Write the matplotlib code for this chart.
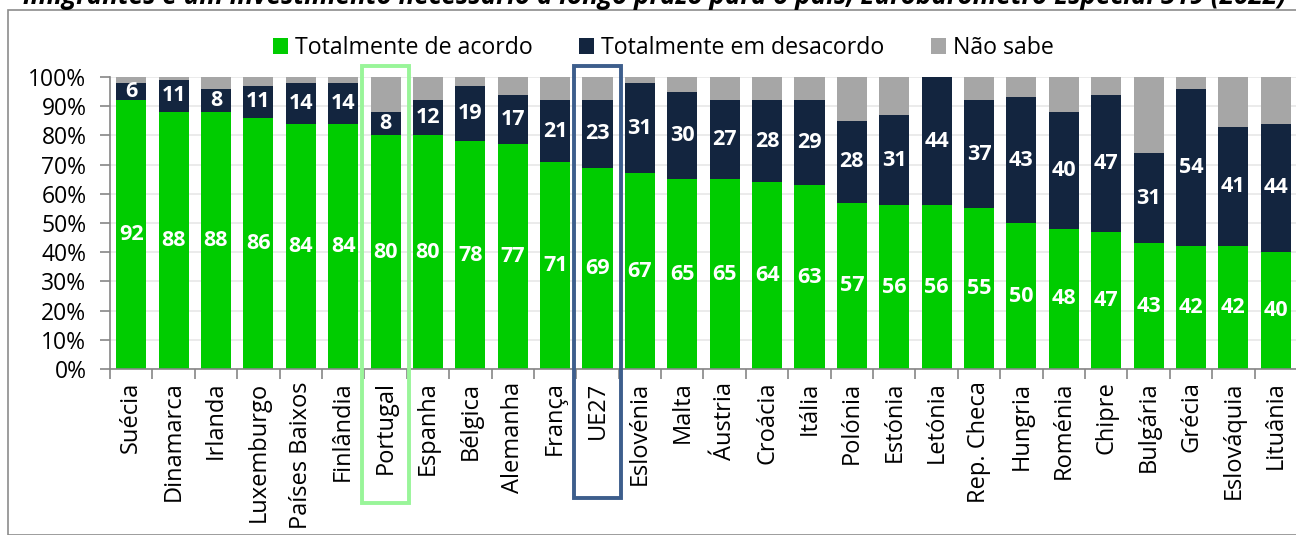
import numpy as np
import matplotlib as mpl
mpl.use('Agg')
import matplotlib.pyplot as plt
from matplotlib.patches import Rectangle
import matplotlib.transforms as mtransforms

plt.rcParams['font.family'] = ['Open Sans', 'DejaVu Sans']

countries = ['Suécia', 'Dinamarca', 'Irlanda', 'Luxemburgo', 'Países Baixos', 'Finlândia',
             'Portugal', 'Espanha', 'Bélgica', 'Alemanha', 'França', 'UE27', 'Eslovénia',
             'Malta', 'Áustria', 'Croácia', 'Itália', 'Polónia', 'Estónia', 'Letónia',
             'Rep. Checa', 'Hungria', 'Roménia', 'Chipre', 'Bulgária', 'Grécia',
             'Eslováquia', 'Lituânia']
acordo = [92, 88, 88, 86, 84, 84, 80, 80, 78, 77, 71, 69, 67, 65, 65, 64, 63, 57, 56, 56,
          55, 50, 48, 47, 43, 42, 42, 40]
desacordo = [6, 11, 8, 11, 14, 14, 8, 12, 19, 17, 21, 23, 31, 30, 27, 28, 29, 28, 31, 44,
             37, 43, 40, 47, 31, 54, 41, 44]
nao_sabe = [2, 1, 4, 3, 2, 2, 12, 8, 3, 6, 8, 8, 2, 5, 8, 8, 8, 15, 13, 0,
            8, 7, 12, 6, 26, 4, 17, 16]

GREEN = '#00cc00'
NAVY = '#13253f'
GREY = '#a6a6a6'

fig = plt.figure(figsize=(12.96, 5.35), dpi=100)
ax = fig.add_axes([110/1296, 1 - 369/535, 1187/1296, 292/535])

x = np.arange(len(countries))
acordo = np.array(acordo)
desacordo = np.array(desacordo)
nao_sabe = np.array(nao_sabe)
w = 0.71

b1 = ax.bar(x, acordo, w, color=GREEN, label='Totalmente de acordo', zorder=2)
b2 = ax.bar(x, desacordo, w, bottom=acordo, color=NAVY, label='Totalmente em desacordo', zorder=2)
b3 = ax.bar(x, nao_sabe, w, bottom=acordo + desacordo, color=GREY, label='Não sabe', zorder=2)

for i in x:
    ax.text(i, acordo[i] / 2, str(acordo[i]), ha='center', va='center', color='white',
            fontsize=15.5, fontweight='bold', zorder=3)
    ax.text(i, acordo[i] + desacordo[i] / 2, str(desacordo[i]), ha='center', va='center',
            color='white', fontsize=15.5, fontweight='bold', zorder=3)

ax.set_xlim(-0.5, len(countries) - 0.5)
ax.set_ylim(0, 100)
ax.set_yticks(np.arange(0, 101, 10))
ax.set_yticklabels([f'{v}%' for v in range(0, 101, 10)], fontsize=16.5)
ax.yaxis.grid(True, color='#e8e8e8', linewidth=1.2, zorder=0)
ax.set_axisbelow(True)

ax.set_xticks(x)
ax.set_xticklabels(countries, rotation=90, fontsize=17)
ax.set_xticks(np.arange(-0.5, len(countries), 1), minor=True)
ax.tick_params(axis='x', which='major', length=0, pad=9)
ax.tick_params(axis='x', which='minor', length=7, color='#868686', width=1.2)
ax.tick_params(axis='y', length=7, color='#868686', width=1.2, pad=10)

for s in ['top', 'right']:
    ax.spines[s].set_visible(False)
for s in ['left', 'bottom']:
    ax.spines[s].set_color('#868686')
    ax.spines[s].set_linewidth(1.2)

# highlight boxes
trans = mtransforms.blended_transform_factory(ax.transData, ax.transAxes)
for idx, col, bot in [(6, '#99f599', -0.459), (11, '#3d5e8c', -0.442)]:
    r = Rectangle((idx - 0.545, bot), 1.09, 1.038 - bot, transform=trans, fill=False,
                  edgecolor=col, linewidth=2.8, clip_on=False, zorder=5)
    ax.add_patch(r)

fig.legend(handles=[b1, b2, b3], loc='center', bbox_to_anchor=(0.512, 1 - 48/535), ncol=3,
           frameon=False, fontsize=16.7, handlelength=0.65, handleheight=0.65,
           handletextpad=0.3, columnspacing=2.0)

fig.text(655/1296, 1 - 3.5/535,
         'imigrantes é um investimento necessário a longo prazo para o país, Eurobarómetro Especial 519 (2022)',
         ha='center', va='baseline', fontsize=18.8, fontweight='bold', fontstyle='italic')

fig.patches.append(Rectangle((8/1296, 0), 1.2, 1 - 10/535, transform=fig.transFigure,
                             fill=False, edgecolor='#8c8c8c', linewidth=1.2))

fig.savefig('out.png', dpi=100)
